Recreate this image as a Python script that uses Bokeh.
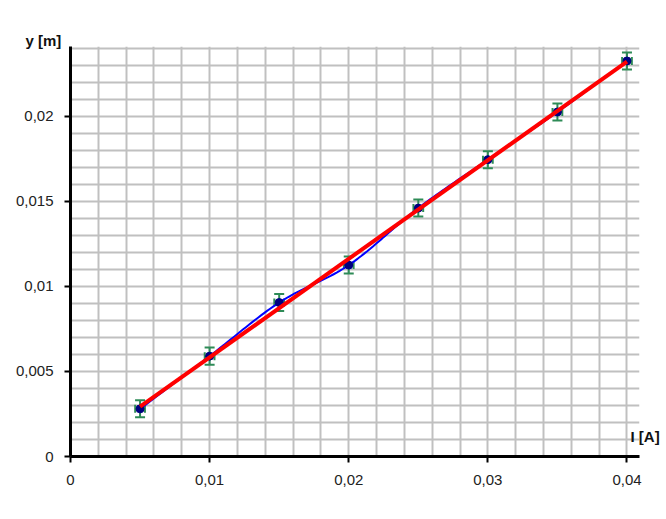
import numpy as np
from bokeh.plotting import figure
from bokeh.models import (Range1d, SingleIntervalTicker, FixedTicker, CustomJSTickFormatter,
                          LinearAxis, Whisker, TeeHead, ColumnDataSource)
from bokeh.embed import file_html
from bokeh.resources import INLINE

# ---- data ----
current = [0.005, 0.010, 0.015, 0.020, 0.025, 0.030, 0.035, 0.040]          # I [A]
deflection = [0.0028, 0.0059, 0.00905, 0.01125, 0.0146, 0.01745, 0.02025, 0.02325]  # y [m]
y_err = [0.0005] * 8
x_err = [0.00035] * 8

x_title = "I [A]"
y_title = "y [m]"

# ---- derived ----
xa = np.array(current)
ya = np.array(deflection)
src = ColumnDataSource(dict(
    x=xa, y=ya,
    ylo=ya - np.array(y_err), yhi=ya + np.array(y_err),
    xlo=xa - np.array(x_err), xhi=xa + np.array(x_err)))

# smooth (Catmull-Rom) curve through the points
def smooth(xv, yv, n=24):
    P = np.column_stack([xv, yv])
    out = []
    for i in range(len(P) - 1):
        p0 = P[i - 1] if i > 0 else P[i]
        p1 = P[i]
        p2 = P[i + 1]
        p3 = P[i + 2] if i + 2 < len(P) else P[i + 1]
        c1 = p1 + (p2 - p0) / 6.0
        c2 = p2 - (p3 - p1) / 6.0
        t = np.linspace(0, 1, n)[:, None]
        seg = ((1 - t) ** 3) * p1 + 3 * ((1 - t) ** 2) * t * c1 + 3 * (1 - t) * t ** 2 * c2 + t ** 3 * p2
        out.append(seg if i == 0 else seg[1:])
    s = np.vstack(out)
    return s[:, 0], s[:, 1]

sx, sy = smooth(xa, ya)
coef = np.polyfit(xa, ya, 1)
fx = np.array([xa.min(), xa.max()])
fy = np.polyval(coef, fx)

# ---- figure ----
p = figure(width=662, height=512, output_backend="svg", toolbar_location=None,
           x_range=Range1d(0, 0.0409), y_range=Range1d(0, 0.0241))
p.min_border = 0
p.min_border_left = 70
p.min_border_right = 23
p.min_border_top = 46
p.min_border_bottom = 56
p.outline_line_color = None
p.background_fill_color = "white"

# y-axis title drawn as the plot title (top-left, outside the frame)
p.title.text = y_title
p.title.align = "left"
p.title.offset = -45
p.title.standoff = -4
p.title.text_font = "Liberation Sans"
p.title.text_font_style = "bold"
p.title.text_font_size = "15px"
p.title.text_color = "#111111"

fmt = CustomJSTickFormatter(code="return (Math.round(tick*100000)/100000).toString().replace('.', ',');")
for ax, iv in ((p.xaxis[0], 0.01), (p.yaxis[0], 0.005)):
    ax.ticker = SingleIntervalTicker(interval=iv, num_minor_ticks=0)
    ax.formatter = fmt
    ax.axis_line_width = 3
    ax.axis_line_color = "black"
    ax.major_tick_line_width = 2
    ax.major_tick_line_color = "black"
    ax.major_tick_in = 0
    ax.major_tick_out = 6
    ax.minor_tick_line_color = None
    ax.major_label_text_font = "Liberation Sans"
    ax.major_label_text_font_size = "15px"
    ax.major_label_text_color = "#222222"
p.xaxis.major_label_standoff = 12
p.yaxis.major_label_standoff = 11

# x-axis title: a tick-less axis on the right whose single label sits just above the x axis
title_pos = 0.00115
xt_axis = LinearAxis(ticker=FixedTicker(ticks=[title_pos]),
                     major_label_overrides={title_pos: x_title},
                     axis_line_color=None, major_tick_line_color=None, minor_tick_line_color=None,
                     major_tick_in=0, major_tick_out=0, major_label_standoff=-9,
                     major_label_text_font="Liberation Sans", major_label_text_font_style="bold",
                     major_label_text_font_size="15px", major_label_text_color="#111111")
p.add_layout(xt_axis, "right")

p.xgrid.ticker = SingleIntervalTicker(interval=0.002, num_minor_ticks=0)
p.ygrid.ticker = SingleIntervalTicker(interval=0.001, num_minor_ticks=0)
p.grid.grid_line_color = "#c0c0c0"
p.grid.grid_line_width = 2

# error bars
green = "#2e8b57"
p.add_layout(Whisker(source=src, base="x", lower="ylo", upper="yhi", dimension="height",
                     line_color=green, line_width=2,
                     upper_head=TeeHead(size=10, line_color=green, line_width=2),
                     lower_head=TeeHead(size=10, line_color=green, line_width=2)))
p.add_layout(Whisker(source=src, base="y", lower="xlo", upper="xhi", dimension="width",
                     line_color=green, line_width=2,
                     upper_head=TeeHead(size=8, line_color=green, line_width=2),
                     lower_head=TeeHead(size=8, line_color=green, line_width=2)))

p.line(sx, sy, line_color="#0000ff", line_width=2)
p.scatter("x", "y", source=src, marker="circle", size=8, fill_color="#000080", line_color="#000080")
p.line(fx, fy, line_color="#ff0000", line_width=4)

open("out.html", "w").write(file_html(p, INLINE))
